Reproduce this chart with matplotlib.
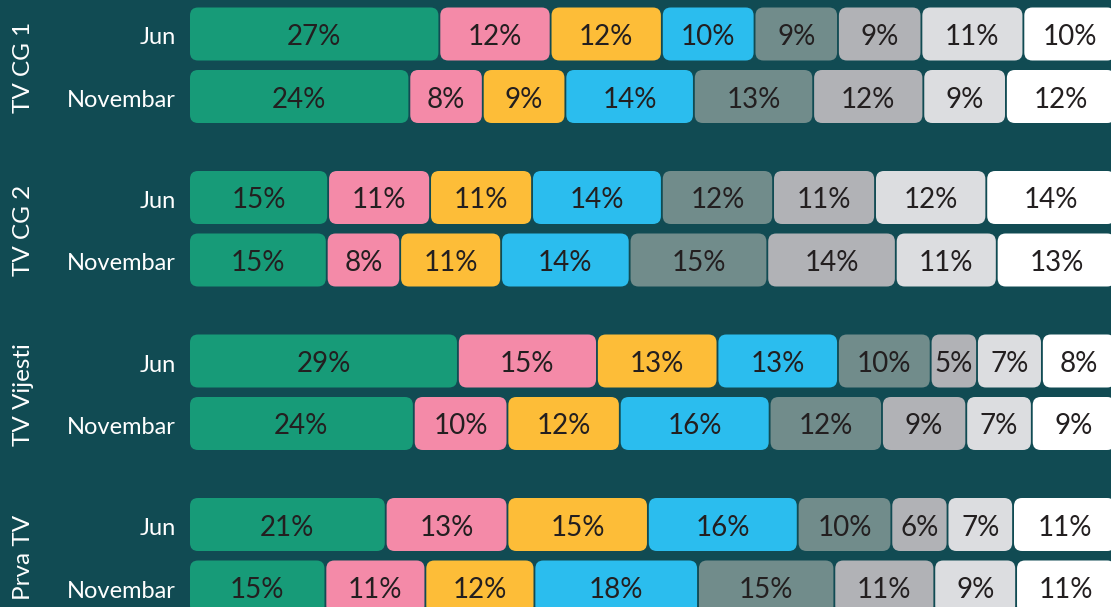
import matplotlib
matplotlib.use("Agg")
import matplotlib.pyplot as plt
from matplotlib.patches import FancyBboxPatch

# -------------------------
# DATA
# -------------------------
channels = ["TV CG 1", "TV CG 2", "TV Vijesti", "Prva TV"]
periods = ["Jun", "Novembar"]

tv_cg1 = [[27, 12, 12, 10, 9, 9, 11, 10],
          [24, 8, 9, 14, 13, 12, 9, 12]]
tv_cg2 = [[15, 11, 11, 14, 12, 11, 12, 14],
          [15, 8, 11, 14, 15, 14, 11, 13]]
tv_vijesti = [[29, 15, 13, 13, 10, 5, 7, 8],
              [24, 10, 12, 16, 12, 9, 7, 9]]
prva_tv = [[21, 13, 15, 16, 10, 6, 7, 11],
           [15, 11, 12, 18, 15, 11, 9, 11]]
all_values = [tv_cg1, tv_cg2, tv_vijesti, prva_tv]

colors = ["#179b78", "#f48aa8", "#fdbd38", "#2bbdee",
          "#718c8b", "#b1b2b6", "#dcdde0", "#ffffff"]
bg = "#114b53"

# -------------------------
# LAYOUT
# -------------------------
W, H = 1111, 607
left_px = 190
px_per_pct = 9.27
first_row = 34
group_step = 163.5
row_step = 62.5
bar_h = 53
gap = 0.1
radius = 8 / px_per_pct

fig = plt.figure(figsize=(W / 100, H / 100), dpi=100)
fig.patch.set_facecolor(bg)
ax = fig.add_axes([left_px / W, 0, (W - left_px) / W, 1])
ax.set_facecolor(bg)
ax.set_xlim(gap, gap + (W - left_px) / px_per_pct)
ax.set_ylim(H, 0)
ax.axis("off")

font = "Lato"

for g, (name, rows) in enumerate(zip(channels, all_values)):
    for r, (period, vals) in enumerate(zip(periods, rows)):
        yc = first_row + g * group_step + r * row_step
        total = sum(vals)
        x = 0
        for v, c in zip(vals, colors):
            w = v / total * 100
            box = FancyBboxPatch((x + gap, yc - bar_h / 2), w - 2 * gap, bar_h,
                                 boxstyle=f"round,pad=0,rounding_size={radius}",
                                 mutation_aspect=px_per_pct,
                                 facecolor=c, edgecolor="none")
            ax.add_patch(box)
            ax.text(x + w / 2, yc + 3, f"{v}%", ha="center", va="center",
                    fontsize=20, color="#231f20", family=font)
            x += w
        fig.text(176 / W, 1 - (yc + 4) / H, period, ha="right", va="center",
                 fontsize=17, color="white", family=font)
    gc = first_row + g * group_step + row_step / 2
    fig.text(24 / W, 1 - (gc + 2) / H, name, ha="center", va="center", rotation=90,
             fontsize=17.5, color="white", family=font)

fig.savefig("out.png", dpi=100, facecolor=bg)
